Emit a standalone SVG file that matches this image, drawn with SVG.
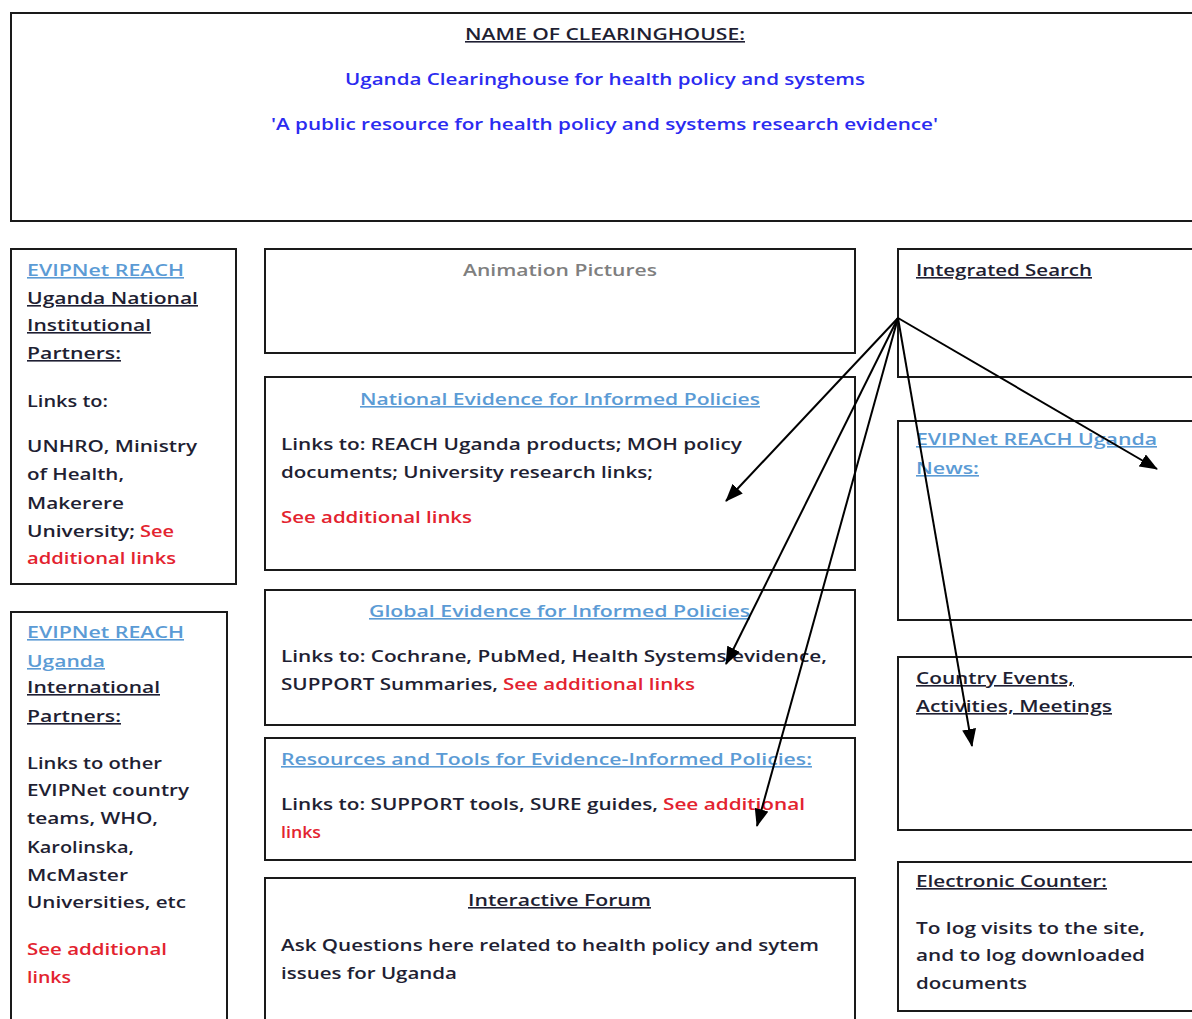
<svg xmlns="http://www.w3.org/2000/svg" width="1192" height="1019" viewBox="0 0 1192 1019">
<defs>
<style>
.box{fill:#fff;stroke:#1a1a1a;stroke-width:2}
text{font-family:"Open Sans","Liberation Sans",sans-serif;font-size:16px;font-weight:600}
.d{fill:#1f1f33}
.b{fill:#2b2bf0}
.l{fill:#5b9bd5;text-decoration:underline}
.r{fill:#e3232f}
.g{fill:#7f7f7f}
.u{text-decoration:underline}
.c{stroke:#000;stroke-width:2;fill:none;marker-end:url(#ah)}
</style>
<marker id="ah" markerUnits="userSpaceOnUse" markerWidth="18" markerHeight="14" refX="17" refY="7" orient="auto"><path d="M0,0 L18,7 L0,14 z" fill="#000"/></marker>
</defs>
<rect width="1192" height="1019" fill="#fff"/>

<g id="header">
<rect class="box" x="11" y="13" width="1190" height="208"/>
<text class="d u" x="465" y="40" textLength="280" lengthAdjust="spacingAndGlyphs">NAME OF CLEARINGHOUSE:</text>
<text class="b" x="345" y="85" textLength="520" lengthAdjust="spacingAndGlyphs">Uganda Clearinghouse for health policy and systems</text>
<text class="b" x="271" y="130" textLength="667" lengthAdjust="spacingAndGlyphs">'A public resource for health policy and systems research evidence'</text>
</g>

<g id="national-partners">
<rect class="box" x="11" y="249" width="225" height="335"/>
<text class="l" x="27" y="276" textLength="157" lengthAdjust="spacingAndGlyphs">EVIPNet REACH</text>
<text class="d u" x="27" y="304" textLength="171" lengthAdjust="spacingAndGlyphs">Uganda National</text>
<text class="d u" x="27" y="331" textLength="124" lengthAdjust="spacingAndGlyphs">Institutional</text>
<text class="d u" x="27" y="359" textLength="94" lengthAdjust="spacingAndGlyphs">Partners:</text>
<text class="d" x="27" y="407" textLength="81" lengthAdjust="spacingAndGlyphs">Links to:</text>
<text class="d" x="27" y="452" textLength="170" lengthAdjust="spacingAndGlyphs">UNHRO, Ministry</text>
<text class="d" x="27" y="480" textLength="97" lengthAdjust="spacingAndGlyphs">of Health,</text>
<text class="d" x="27" y="509" textLength="97" lengthAdjust="spacingAndGlyphs">Makerere</text>
<text class="d" x="27" y="537" textLength="108" lengthAdjust="spacingAndGlyphs">University;</text>
<text class="r" x="140" y="537" textLength="34" lengthAdjust="spacingAndGlyphs">See</text>
<text class="r" x="27" y="564" textLength="149" lengthAdjust="spacingAndGlyphs">additional links</text>
</g>

<g id="international-partners">
<rect class="box" x="11" y="612" width="216" height="420"/>
<text class="l" x="27" y="638" textLength="157" lengthAdjust="spacingAndGlyphs">EVIPNet REACH</text>
<text class="l" x="27" y="667" textLength="78" lengthAdjust="spacingAndGlyphs">Uganda</text>
<text class="d u" x="27" y="693" textLength="133" lengthAdjust="spacingAndGlyphs">International</text>
<text class="d u" x="27" y="722" textLength="94" lengthAdjust="spacingAndGlyphs">Partners:</text>
<text class="d" x="27" y="769" textLength="135" lengthAdjust="spacingAndGlyphs">Links to other</text>
<text class="d" x="27" y="796" textLength="162" lengthAdjust="spacingAndGlyphs">EVIPNet country</text>
<text class="d" x="27" y="824" textLength="131" lengthAdjust="spacingAndGlyphs">teams, WHO,</text>
<text class="d" x="27" y="853" textLength="107" lengthAdjust="spacingAndGlyphs">Karolinska,</text>
<text class="d" x="27" y="881" textLength="101" lengthAdjust="spacingAndGlyphs">McMaster</text>
<text class="d" x="27" y="908" textLength="159" lengthAdjust="spacingAndGlyphs">Universities, etc</text>
<text class="r" x="27" y="955" textLength="140" lengthAdjust="spacingAndGlyphs">See additional</text>
<text class="r" x="27" y="983" textLength="44" lengthAdjust="spacingAndGlyphs">links</text>
</g>

<g id="animation">
<rect class="box" x="265" y="249" width="590" height="104"/>
<text class="g" x="463" y="276" textLength="194" lengthAdjust="spacingAndGlyphs">Animation Pictures</text>
</g>

<g id="national-evidence">
<rect class="box" x="265" y="377" width="590" height="193"/>
<text class="l" x="360" y="405" textLength="400" lengthAdjust="spacingAndGlyphs">National Evidence for Informed Policies</text>
<text class="d" x="281" y="450" textLength="461" lengthAdjust="spacingAndGlyphs">Links to: REACH Uganda products; MOH policy</text>
<text class="d" x="281" y="478" textLength="372" lengthAdjust="spacingAndGlyphs">documents; University research links;</text>
<text class="r" x="281" y="523" textLength="191" lengthAdjust="spacingAndGlyphs">See additional links</text>
</g>

<g id="global-evidence">
<rect class="box" x="265" y="590" width="590" height="135"/>
<text class="l" x="369" y="617" textLength="381" lengthAdjust="spacingAndGlyphs">Global Evidence for Informed Policies</text>
<text class="d" x="281" y="662" textLength="546" lengthAdjust="spacingAndGlyphs">Links to: Cochrane, PubMed, Health Systems evidence,</text>
<text class="d" x="281" y="690" textLength="217" lengthAdjust="spacingAndGlyphs">SUPPORT Summaries,</text>
<text class="r" x="503" y="690" textLength="192" lengthAdjust="spacingAndGlyphs">See additional links</text>
</g>

<g id="resources-tools">
<rect class="box" x="265" y="738" width="590" height="122"/>
<text class="l" x="281" y="765" textLength="531" lengthAdjust="spacingAndGlyphs">Resources and Tools for Evidence-Informed Policies:</text>
<text class="d" x="281" y="810" textLength="377" lengthAdjust="spacingAndGlyphs">Links to: SUPPORT tools, SURE guides,</text>
<text class="r" x="663" y="810" textLength="142" lengthAdjust="spacingAndGlyphs">See additional</text>
<text class="r" x="281" y="838" textLength="40" lengthAdjust="spacingAndGlyphs">links</text>
</g>

<g id="interactive-forum">
<rect class="box" x="265" y="878" width="590" height="160"/>
<text class="d u" x="468" y="906" textLength="183" lengthAdjust="spacingAndGlyphs">Interactive Forum</text>
<text class="d" x="281" y="951" textLength="538" lengthAdjust="spacingAndGlyphs">Ask Questions here related to health policy and sytem</text>
<text class="d" x="281" y="979" textLength="176" lengthAdjust="spacingAndGlyphs">issues for Uganda</text>
</g>

<g id="integrated-search">
<rect class="box" x="898" y="249" width="310" height="128"/>
<text class="d u" x="916" y="276" textLength="176" lengthAdjust="spacingAndGlyphs">Integrated Search</text>
</g>

<g id="news">
<rect class="box" x="898" y="421" width="310" height="199"/>
<text class="l" x="916" y="445" textLength="241" lengthAdjust="spacingAndGlyphs">EVIPNet REACH Uganda</text>
<text class="l" x="916" y="474" textLength="63" lengthAdjust="spacingAndGlyphs">News:</text>
</g>

<g id="country-events">
<rect class="box" x="898" y="657" width="310" height="173"/>
<text class="d u" x="916" y="684" textLength="158" lengthAdjust="spacingAndGlyphs">Country Events,</text>
<text class="d u" x="916" y="712" textLength="196" lengthAdjust="spacingAndGlyphs">Activities, Meetings</text>
</g>

<g id="electronic-counter">
<rect class="box" x="898" y="862" width="310" height="149"/>
<text class="d u" x="916" y="887" textLength="191" lengthAdjust="spacingAndGlyphs">Electronic Counter:</text>
<text class="d" x="916" y="934" textLength="229" lengthAdjust="spacingAndGlyphs">To log visits to the site,</text>
<text class="d" x="916" y="961" textLength="229" lengthAdjust="spacingAndGlyphs">and to log downloaded</text>
<text class="d" x="916" y="989" textLength="111" lengthAdjust="spacingAndGlyphs">documents</text>
</g>

<g id="connectors">
<line class="c" x1="898" y1="318" x2="726" y2="501"/>
<line class="c" x1="898" y1="318" x2="726" y2="664"/>
<line class="c" x1="898" y1="318" x2="757" y2="826"/>
<line class="c" x1="898" y1="318" x2="972" y2="746"/>
<line class="c" x1="898" y1="318" x2="1157" y2="469"/>
</g>
</svg>
